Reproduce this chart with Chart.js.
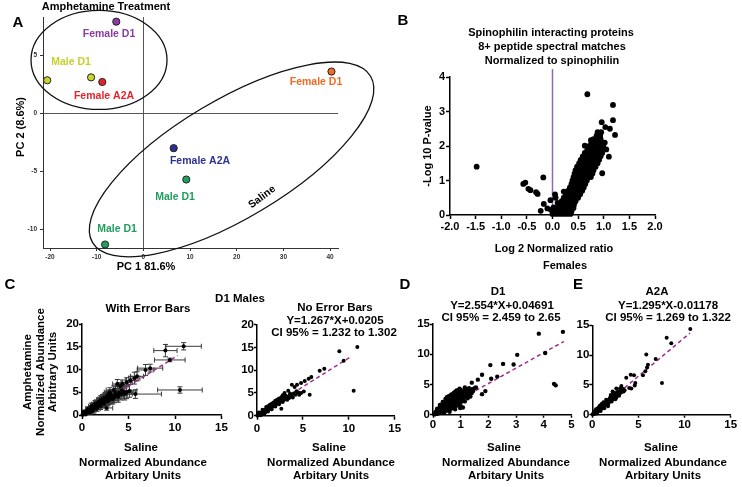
<!DOCTYPE html>
<html>
<head>
<meta charset="utf-8">
<script src="https://cdn.jsdelivr.net/npm/chart.js@4.4.1/dist/chart.umd.min.js"></script>
<style>
  html, body { margin: 0; padding: 0; background: #fff; }
  #wrap { position: relative; width: 742px; height: 487px; overflow: hidden; }
  canvas { position: absolute; left: 0; top: 0; }
</style>
</head>
<body>
<div id="wrap">
  <canvas id="pca" width="742" height="487"></canvas>
  <canvas id="volcano" width="742" height="487"></canvas>
  <canvas id="cErr" width="742" height="487"></canvas>
  <canvas id="cNoErr" width="742" height="487"></canvas>
  <canvas id="d1" width="742" height="487"></canvas>
  <canvas id="a2a" width="742" height="487"></canvas>
</div>
<script>
// ---- A: PCA ----
const aNames = ["Female D1", "Male D1", "Male D1", "Female A2A", "Female D1", "Female A2A", "Male D1", "Male D1"];
const aPC1 = [-5.8, -20.6, -11.2, -8.8, 40.3, 6.5, 9.2, -8.2];
const aPC2 = [7.9, 2.85, 3.1, 2.7, 3.6, -3.0, -5.7, -11.3];
const aTicksX = [-20, -10, 0, 10, 20, 30, 40];
const aTicksY = [-10, -5, 0, 5];

// ---- B: volcano (log2 ratio, -log10 p) ----
const bOutliers = [
  [0.68, 3.5], [1.18, 3.19], [1.18, 2.75], [1.22, 2.32], [0.96, 2.69], [1.12, 2.5], [1.03, 2.55],
  [0.75, 2.17], [0.63, 2.01], [1.10, 1.69], [0.97, 1.21], [1.05, 1.9], [1.02, 2.1],
  [-1.48, 1.40], [-0.57, 0.90], [-0.53, 0.94], [-0.47, 0.76], [-0.43, 0.72], [-0.32, 0.66],
  [-0.29, 0.61], [-0.18, 1.09], [-0.23, 0.12], [-0.17, 0.32], [-0.10, 0.19], [-0.04, 0.43],
  [0.05, 0.6], [0.06, 0.5], [0.22, 0.68], [-0.03, 0.15], [0.02, 0.22], [0.1, 0.35]
];
const bBandRows = [
  [0.03, [0, 0.07, 0.14, 0.21, 0.28, 0.35]],
  [0.1, [0.04, 0.11, 0.18, 0.25, 0.32, 0.37]],
  [0.2, [0.08, 0.15, 0.22, 0.29, 0.36, 0.41]],
  [0.3, [0.13, 0.2, 0.27, 0.34, 0.42]],
  [0.4, [0.18, 0.25, 0.32, 0.39, 0.45]],
  [0.5, [0.22, 0.29, 0.36, 0.43, 0.5]],
  [0.6, [0.26, 0.33, 0.4, 0.47, 0.54]],
  [0.7, [0.3, 0.37, 0.44, 0.51, 0.58]],
  [0.8, [0.34, 0.41, 0.48, 0.55, 0.61]],
  [0.9, [0.37, 0.44, 0.51, 0.58, 0.64]],
  [1.0, [0.39, 0.46, 0.53, 0.6, 0.67]],
  [1.1, [0.41, 0.48, 0.55, 0.62, 0.7, 0.75]],
  [1.2, [0.43, 0.5, 0.57, 0.64, 0.71, 0.78]],
  [1.3, [0.45, 0.52, 0.59, 0.66, 0.73, 0.8]],
  [1.4, [0.48, 0.55, 0.62, 0.69, 0.76, 0.84]],
  [1.5, [0.52, 0.59, 0.66, 0.73, 0.8, 0.88]],
  [1.6, [0.55, 0.62, 0.69, 0.76, 0.83, 0.91]],
  [1.7, [0.59, 0.66, 0.73, 0.8, 0.87, 0.94]],
  [1.8, [0.63, 0.7, 0.77, 0.84, 0.91, 0.97]],
  [1.9, [0.68, 0.75, 0.82, 0.89, 0.96]],
  [2.0, [0.72, 0.79, 0.86, 0.93, 0.99]],
  [2.1, [0.76, 0.83, 0.9, 0.97]],
  [2.2, [0.8, 0.87, 0.94]],
  [2.3, [0.86, 0.93]],
  [2.4, [0.88, 0.95]]
];
const bTicksX = [-2, -1.5, -1, -0.5, 0, 0.5, 1, 1.5, 2];
const bTicksY = [0, 1, 2, 3, 4];

// ---- C: D1 males, saline vs amphetamine ----
const cPoints = [
  [0.05, 0.05], [0.1, 0.2], [0.15, 0.1], [0.2, 0.3], [0.25, 0.2], [0.3, 0.45], [0.35, 0.3], [0.4, 0.55], [0.45, 0.5], [0.5, 0.7],
  [0.55, 0.6], [0.6, 0.85], [0.65, 0.75], [0.7, 1.0], [0.75, 0.85], [0.8, 1.1], [0.85, 0.95], [0.9, 1.25], [0.95, 1.1], [1.0, 1.4],
  [1.05, 1.2], [1.1, 1.5], [1.15, 1.35], [1.2, 1.65], [1.25, 1.5], [1.3, 1.75], [1.35, 1.6], [1.4, 1.9], [1.45, 1.7], [1.5, 2.0],
  [1.55, 1.85], [1.6, 2.15], [1.65, 1.95], [1.7, 2.3], [1.75, 2.1], [1.8, 2.45], [1.85, 2.25], [1.9, 2.6], [1.95, 2.35], [2.0, 2.75],
  [2.05, 2.5], [2.1, 2.9], [2.2, 2.7], [2.25, 3.1], [2.3, 2.85], [2.4, 3.3], [2.5, 3.0], [2.55, 3.5], [2.7, 3.2], [2.8, 3.7],
  [2.9, 3.4], [3.0, 3.9], [3.2, 3.6], [3.3, 4.2], [3.5, 3.9], [3.6, 4.5], [3.8, 4.3], [4.0, 4.9], [4.2, 4.6], [4.5, 5.1],
  [4.8, 5.0], [5.1, 5.3], [1.2, 2.1], [0.9, 0.7], [1.6, 2.6], [2.0, 3.3], [2.4, 3.8], [2.7, 4.1], [2.65, 1.55], [5.74, 4.6],
  [10.53, 5.5], [10.93, 15.1], [8.97, 14.15], [9.44, 12.1], [7.33, 10.3], [6.83, 9.9], [5.92, 8.5], [5.63, 8.1], [5.2, 7.6], [4.8, 7.2],
  [4.36, 6.8], [3.8, 6.8], [4.1, 6.3], [3.4, 5.5], [3.0, 5.0], [2.8, 4.5],
  [0.2, 0.7], [0.4, 0.1], [0.6, 1.3], [0.8, 0.5], [1.0, 1.9], [1.2, 0.9], [1.4, 2.4], [1.6, 1.4], [1.8, 2.9], [2.0, 2.0],
  [2.2, 3.5], [2.4, 2.5], [2.6, 3.9], [2.8, 3.0], [3.1, 4.4], [3.3, 3.5], [3.6, 4.9], [3.9, 4.0], [4.3, 5.4], [4.6, 4.6]
];
// SEM (x, y) per point, same order as cPoints
const cErrors = [
  [0.05, 0.1], [0.08, 0.2], [0.06, 0.15], [0.1, 0.25], [0.08, 0.2], [0.12, 0.3], [0.1, 0.25], [0.15, 0.35], [0.12, 0.3], [0.15, 0.4],
  [0.12, 0.35], [0.18, 0.45], [0.15, 0.4], [0.2, 0.5], [0.15, 0.4], [0.2, 0.5], [0.18, 0.45], [0.25, 0.55], [0.2, 0.5], [0.25, 0.6],
  [0.2, 0.5], [0.3, 0.6], [0.25, 0.55], [0.3, 0.65], [0.25, 0.6], [0.3, 0.7], [0.28, 0.6], [0.35, 0.7], [0.3, 0.65], [0.35, 0.75],
  [0.3, 0.7], [0.4, 0.8], [0.35, 0.7], [0.4, 0.8], [0.35, 0.75], [0.45, 0.85], [0.4, 0.8], [0.45, 0.9], [0.4, 0.8], [0.5, 0.9],
  [0.45, 0.85], [0.5, 1.0], [0.45, 0.9], [0.55, 1.0], [0.5, 0.9], [0.55, 1.1], [0.5, 1.0], [0.6, 1.1], [0.55, 1.0], [0.6, 1.2],
  [0.55, 1.1], [0.65, 1.2], [0.6, 1.1], [0.7, 1.3], [0.6, 1.2], [0.7, 1.3], [0.65, 1.2], [0.75, 1.4], [0.7, 1.3], [0.8, 1.5],
  [0.7, 1.4], [0.8, 1.4], [0.3, 0.6], [0.2, 0.4], [0.35, 0.7], [0.45, 0.9], [0.5, 1.0], [0.6, 1.1], [0.65, 0.5], [2.8, 0.95],
  [2.4, 0.7], [1.9, 0.8], [1.25, 1.35], [1.65, 0.4], [1.35, 0.85], [0.9, 1.2], [0.7, 1.0], [0.6, 1.3], [0.5, 0.9], [0.6, 1.0],
  [0.6, 0.9], [0.5, 1.0], [0.5, 0.8], [0.8, 0.9], [0.6, 1.0], [0.5, 0.8],
  [0.1, 0.3], [0.1, 0.2], [0.2, 0.5], [0.2, 0.4], [0.3, 0.7], [0.3, 0.5], [0.35, 0.8], [0.35, 0.6], [0.45, 0.9], [0.4, 0.8],
  [0.5, 1.0], [0.5, 0.9], [0.55, 1.1], [0.55, 1.0], [0.6, 1.2], [0.6, 1.1], [0.7, 1.3], [0.7, 1.2], [0.8, 1.4], [0.8, 1.3]
];
const cFit = { slope: 1.267, intercept: 0.0205, xRange: [0, 10.3] };
const cTicksX = [0, 5, 10, 15];
const cTicksY = [0, 5, 10, 15, 20];

// ---- D: D1 ----
const dBandCols = [
  [0.05, [0.05, 0.2]], [0.1, [0.1, 0.3, 0.5]], [0.15, [0.15, 0.4, 0.7, 1.0]], [0.2, [0.25, 0.55, 0.9]],
  [0.25, [0.3, 0.65, 1.0, 1.3, 1.6]], [0.3, [0.4, 0.8, 1.2, 1.5]], [0.35, [0.5, 0.9, 1.4, 1.8, 2.1]], [0.4, [0.3, 0.55, 1.0, 1.5, 2.0]],
  [0.45, [0.6, 1.1, 1.6, 2.2, 2.6]], [0.5, [0.7, 1.2, 1.8, 2.4, 2.9]], [0.55, [0.8, 1.3, 1.9, 2.5, 3.0]], [0.6, [0.5, 0.9, 1.5, 2.1, 2.7, 3.1]],
  [0.65, [1.0, 1.6, 2.2, 2.8, 3.3]], [0.7, [1.1, 1.7, 2.4, 3.0, 3.4]], [0.75, [1.2, 1.9, 2.6, 3.2, 3.6]], [0.8, [0.9, 1.3, 2.0, 2.7, 3.4, 3.8]],
  [0.85, [1.5, 2.2, 2.9, 3.5, 4.0]], [0.9, [1.6, 2.4, 3.1, 3.7, 4.0]], [0.95, [1.8, 2.6, 3.3, 3.9]], [1.0, [1.4, 2.0, 2.8, 3.5, 4.1]],
  [1.05, [2.3, 3.0, 3.7]], [1.1, [2.6, 3.2, 3.9]], [1.15, [2.2, 4.3]], [1.2, [3.0, 3.6, 4.0]], [1.25, [2.7]],
  [1.3, [3.3, 3.8]], [1.35, [3.0]], [1.4, [3.6, 4.1]], [1.45, [3.9]], [1.5, [4.4]]
];
const dOutliers = [
  [4.69, 13.7], [3.82, 13.4], [4.05, 10.2], [3.04, 9.9], [2.91, 8.3], [2.53, 8.4], [2.07, 8.2], [2.32, 6.3],
  [2.1, 5.95], [1.77, 6.6], [1.62, 5.8], [1.4, 5.3], [1.89, 3.9], [1.77, 3.4], [4.37, 5.1], [4.43, 4.85],
  [1.08, 1.2], [0.98, 1.1], [0.96, 4.3], [1.26, 4.1], [1.42, 4.2], [1.15, 4.5], [1.55, 4.5], [1.3, 4.4]
];
const dFit = { slope: 2.554, intercept: 0.04691, xRange: [0, 4.72] };
const dTicksX = [0, 1, 2, 3, 4, 5];
const dTicksY = [0, 5, 10, 15];

// ---- E: A2A ----
const ePoints = [
  [0.05, 0.05], [0.1, 0.2], [0.2, 0.1], [0.25, 0.35], [0.3, 0.2], [0.4, 0.5], [0.45, 0.35], [0.5, 0.7], [0.6, 0.5], [0.65, 0.9],
  [0.7, 0.7], [0.8, 1.1], [0.85, 0.85], [0.9, 1.25], [1.0, 1.0], [1.05, 1.45], [1.1, 1.2], [1.2, 1.65], [1.25, 1.35], [1.3, 1.8],
  [1.4, 1.55], [1.45, 2.0], [1.5, 1.7], [1.6, 2.2], [1.65, 1.85], [1.7, 2.4], [1.8, 2.05], [1.85, 2.6], [1.9, 2.25], [2.0, 2.8],
  [2.05, 2.4], [2.1, 3.0], [2.2, 2.6], [2.25, 3.2], [2.3, 2.8], [2.4, 3.4], [2.5, 3.0], [2.55, 3.6], [2.65, 3.2], [2.7, 3.8],
  [2.8, 3.4], [2.9, 3.9], [3.0, 3.6], [3.1, 4.1], [3.2, 3.8], [3.35, 4.3], [3.5, 4.1], [1.0, 1.8], [1.5, 2.5], [2.0, 3.3],
  [2.3, 3.7], [1.7, 1.4], [2.6, 2.9], [0.6, 1.1], [3.0, 4.4],
  [0.3, 0.6], [0.5, 0.2], [0.7, 1.2], [0.9, 0.6], [1.1, 1.7], [1.3, 1.1], [1.5, 2.2], [1.7, 1.7], [1.9, 2.8], [2.1, 2.2],
  [2.3, 3.3], [2.5, 2.6], [2.7, 3.5], [2.9, 3.2], [3.2, 4.3], [3.4, 3.9], [2.2, 3.9], [1.2, 2.1], [0.4, 0.9], [0.8, 1.5],
  [10.62, 14.4], [8.06, 12.9], [8.56, 12.0], [5.85, 10.1], [6.87, 9.35], [6.03, 8.4], [5.93, 7.9], [5.75, 7.3],
  [5.49, 6.6], [7.55, 5.3], [4.52, 6.6], [4.16, 6.7], [3.68, 6.2], [4.66, 5.3], [4.6, 4.9], [4.0, 4.5],
  [4.23, 4.4], [3.15, 4.8], [2.6, 4.4]
];
const eFit = { slope: 1.295, intercept: -0.01178, xRange: [0, 10.6] };
const eTicksX = [0, 5, 10, 15];
const eTicksY = [0, 5, 10, 15];

// ---- styles ----
const FF = "'Liberation Sans', Arial, Helvetica, sans-serif";
const aColors = ["#8b3aa6", "#c9d52e", "#c9d52e", "#e5232c", "#f26a24", "#2e3192", "#1f9e5c", "#1f9e5c"];
const PURPLE_FIT = "#a0308e";
const fnt = (size, weight = "bold") => ({ family: FF, size, weight });
const W = 742, H = 487, AX = 30;

Chart.defaults.font.family = FF;
Chart.defaults.animation = false;

const xy = arr => arr.map(p => ({ x: p[0], y: p[1] }));

function axis(min, max, ticks, st, fmt) {
  return {
    type: "linear", min, max,
    afterBuildTicks: s => { s.ticks = ticks.map(v => ({ value: v })); },
    afterFit: s => { if (s.isHorizontal()) s.height = AX; else s.width = AX; },
    border: { display: true, color: st.color, width: st.width },
    grid: {
      display: true,
      drawOnChartArea: !!st.zero,
      color: c => (st.zero && c.tick && c.tick.value === 0) ? st.zero : "rgba(0,0,0,0)",
      lineWidth: 1,
      tickColor: st.color, tickLength: st.tick, tickWidth: st.width
    },
    ticks: {
      font: st.font, color: st.text || "#000", padding: st.pad,
      maxRotation: 0, autoSkip: false, callback: fmt || (v => String(v))
    }
  };
}

// plot rectangle in page pixels -> layout padding for a full-page canvas
const area = (x0, y0, x1, y1) => ({ left: x0 - AX, top: y0, right: W - x1, bottom: H - y1 - AX });

function fitLine(fit) {
  return fit.xRange.map(x => ({ x, y: fit.slope * x + fit.intercept }));
}

const textPlugin = {
  id: "texts",
  afterDraw(chart, args, opts) {
    const ctx = chart.ctx;
    (opts.items || []).forEach(t => {
      ctx.save();
      ctx.font = `bold ${t.s || 11.5}px ${FF}`;
      ctx.fillStyle = t.c || "#000";
      ctx.textAlign = "center";
      ctx.textBaseline = "middle";
      ctx.translate(t.x, t.y);
      if (t.r) ctx.rotate(t.r * Math.PI / 180);
      ctx.fillText(t.t, 0, 0);
      ctx.restore();
    });
  }
};

const ellipsePlugin = {
  id: "ellipses",
  beforeDatasetsDraw(chart, args, opts) {
    const ctx = chart.ctx, sx = chart.scales.x, sy = chart.scales.y;
    (opts.items || []).forEach(e => {
      ctx.save();
      ctx.beginPath();
      ctx.ellipse(sx.getPixelForValue(e.x), sy.getPixelForValue(e.y), e.rx, e.ry, e.rot * Math.PI / 180, 0, Math.PI * 2);
      ctx.lineWidth = 1.3;
      ctx.strokeStyle = "#111";
      ctx.stroke();
      ctx.restore();
    });
  }
};

const errPlugin = {
  id: "errbars",
  beforeDatasetsDraw(chart, args, opts) {
    if (!opts.pts) return;
    const ctx = chart.ctx, sx = chart.scales.x, sy = chart.scales.y, ca = chart.chartArea;
    ctx.save();
    ctx.beginPath();
    ctx.rect(ca.left, ca.top - 10, ca.right - ca.left + 10, ca.bottom - ca.top + 10);
    ctx.clip();
    ctx.strokeStyle = "#3a3a3a";
    ctx.lineWidth = 1;
    const cap = 2.5;
    opts.pts.forEach((p, i) => {
      const [xe, ye] = opts.err[i];
      const px = sx.getPixelForValue(p[0]), py = sy.getPixelForValue(p[1]);
      const xl = sx.getPixelForValue(p[0] - xe), xr = sx.getPixelForValue(p[0] + xe);
      const yt = sy.getPixelForValue(p[1] + ye), yb = sy.getPixelForValue(p[1] - ye);
      ctx.beginPath();
      ctx.moveTo(xl, py); ctx.lineTo(xr, py);
      ctx.moveTo(xl, py - cap); ctx.lineTo(xl, py + cap);
      ctx.moveTo(xr, py - cap); ctx.lineTo(xr, py + cap);
      ctx.moveTo(px, yt); ctx.lineTo(px, yb);
      ctx.moveTo(px - cap, yt); ctx.lineTo(px + cap, yt);
      ctx.moveTo(px - cap, yb); ctx.lineTo(px + cap, yb);
      ctx.stroke();
    });
    ctx.restore();
  }
};

const plugins = [textPlugin, ellipsePlugin, errPlugin];

function baseOptions(pad, scales, extra) {
  return {
    responsive: false,
    animation: false,
    events: [],
    layout: { padding: pad },
    scales,
    plugins: Object.assign({ legend: { display: false }, tooltip: { enabled: false } }, extra)
  };
}

// ---- A ----
const stA = { color: "#333", width: 1, tick: 3, pad: 2, font: fnt(6.5), text: "#333", zero: "#555" };
const stAy = Object.assign({}, stA, { pad: 3 });
new Chart(document.getElementById("pca"), {
  type: "scatter",
  data: {
    datasets: [{
      data: aPC1.map((x, i) => ({ x, y: aPC2[i] })),
      pointBackgroundColor: aColors, pointBorderColor: "#222", pointBorderWidth: 1,
      pointRadius: 3.6, clip: false
    }]
  },
  options: baseOptions(area(43, 17, 338, 248), {
    x: axis(-21.5, 41.7, aTicksX, stA),
    y: axis(-11.6, 8.3, aTicksY, stAy)
  }, {
    ellipses: { items: [
      { x: -9.5, y: 4.6, rx: 68, ry: 49.5, rot: 0 },
      { x: 18.9, y: -3.97, rx: 162, ry: 59, rot: -30.9 }
    ] },
    texts: { items: [
      { t: "A", x: 18, y: 23, s: 15 },
      { t: "Amphetamine Treatment", x: 106, y: 7, s: 11 },
      { t: "PC 1 81.6%", x: 146, y: 267, s: 11 },
      { t: "PC 2 (8.6%)", x: 21, y: 127, s: 11, r: -90 },
      { t: aNames[0], x: 109, y: 34, s: 10.5, c: "#8b3aa6" },
      { t: aNames[1], x: 71, y: 62, s: 10.5, c: "#c4d12a" },
      { t: aNames[3], x: 104, y: 96, s: 10.5, c: "#e5232c" },
      { t: aNames[4], x: 316, y: 82, s: 10.5, c: "#f26a24" },
      { t: aNames[5], x: 200, y: 161, s: 10.5, c: "#2e3192" },
      { t: aNames[6], x: 175, y: 197, s: 10.5, c: "#1f9e5c" },
      { t: aNames[7], x: 117, y: 229, s: 10.5, c: "#1f9e5c" },
      { t: "Saline", x: 262, y: 197, s: 10.5, r: -37 }
    ] }
  }),
  plugins
});

// ---- B ----
const bPoints = bOutliers.concat(...bBandRows.map(r => r[1].map(x => [x, r[0]])));
const stBx = { color: "#000", width: 1.5, tick: 4, pad: 1.5, font: fnt(11) };
const stBy = { color: "#000", width: 1.5, tick: 4, pad: 1, font: fnt(11) };
new Chart(document.getElementById("volcano"), {
  type: "scatter",
  data: {
    datasets: [
      { data: xy(bPoints), pointBackgroundColor: "#000", pointBorderWidth: 0, pointRadius: 2.9, clip: false },
      { data: [{ x: 0, y: 0 }, { x: 0, y: 4.23 }], showLine: true, borderColor: "#8c6bb1", borderWidth: 1.5, pointRadius: 0, clip: false }
    ]
  },
  options: baseOptions(area(450, 77, 655, 215), {
    x: axis(-2, 2, bTicksX, stBx, v => v.toFixed(1)),
    y: axis(0, 4, bTicksY, stBy)
  }, {
    texts: { items: [
      { t: "B", x: 403, y: 21, s: 15 },
      { t: "Spinophilin interacting proteins", x: 551, y: 33, s: 11 },
      { t: "8+ peptide spectral matches", x: 552, y: 47, s: 11 },
      { t: "Normalized to spinophilin", x: 552, y: 61, s: 11 },
      { t: "-Log 10 P-value", x: 428, y: 146, s: 11, r: -90 },
      { t: "Log 2 Normalized ratio", x: 554, y: 249, s: 11 },
      { t: "Females", x: 565, y: 266, s: 11 }
    ] }
  }),
  plugins
});

// ---- C, D, E shared styles ----
const stCx = { color: "#000", width: 1.5, tick: 4, pad: 2, font: fnt(11.5) };
const stCy = { color: "#000", width: 1.5, tick: 3, pad: 0, font: fnt(11.5) };
const stDx = { color: "#000", width: 1.5, tick: 3, pad: 0, font: fnt(11.5) };

function xTitles(cx) {
  return [
    { t: "Saline", x: cx - 2, y: 448 },
    { t: "Normalized Abundance", x: cx, y: 463 },
    { t: "Arbitary Units", x: cx, y: 476 }
  ];
}

function corrChart(id, pts, fit, rect, xr, yr, xt, yt, stx, r, extra) {
  return new Chart(document.getElementById(id), {
    type: "scatter",
    data: {
      datasets: [
        { data: xy(pts), pointBackgroundColor: "#000", pointBorderWidth: 0, pointRadius: r, clip: false },
        { data: fitLine(fit), showLine: true, borderColor: PURPLE_FIT, borderWidth: 1.5, borderDash: [4, 3], pointRadius: 0, clip: false }
      ]
    },
    options: baseOptions(area(...rect), {
      x: axis(xr[0], xr[1], xt, stx),
      y: axis(yr[0], yr[1], yt, stCy)
    }, extra),
    plugins
  });
}

corrChart("cErr", cPoints, cFit, [82, 324, 221.5, 415], [0, 15], [0, 20], cTicksX, cTicksY, stCx, 2, {
  errbars: { pts: cPoints, err: cErrors },
  texts: { items: [
    { t: "C", x: 10, y: 285, s: 15 },
    { t: "D1 Males", x: 240, y: 299 },
    { t: "With Error Bars", x: 148, y: 309 },
    { t: "Amphetamine", x: 28, y: 372, r: -90 },
    { t: "Normalized Abundance", x: 41, y: 372, r: -90 },
    { t: "Arbitrary Units", x: 53, y: 372, r: -90 }
  ].concat(xTitles(143)) }
});

corrChart("cNoErr", cPoints, cFit, [257, 324.7, 394.7, 415.7], [0, 15], [0, 20], cTicksX, cTicksY, stCx, 2, {
  texts: { items: [
    { t: "No Error Bars", x: 335, y: 308 },
    { t: "Y=1.267*X+0.0205", x: 335, y: 321 },
    { t: "CI 95% = 1.232 to 1.302", x: 334, y: 333 }
  ].concat(xTitles(331)) }
});

const dPoints = dOutliers.concat(...dBandCols.map(c => c[1].map(y => [c[0], y])));
corrChart("d1", dPoints, dFit, [433, 324, 571.5, 414.7], [0, 5], [0, 15], dTicksX, dTicksY, stDx, 2.2, {
  texts: { items: [
    { t: "D", x: 405, y: 285, s: 15 },
    { t: "D1", x: 498, y: 292 },
    { t: "Y=2.554*X+0.04691", x: 502, y: 306 },
    { t: "CI 95% = 2.459 to 2.65", x: 501, y: 318 }
  ].concat(xTitles(506)) }
});

corrChart("a2a", ePoints, eFit, [592.3, 325.3, 730.7, 414.7], [0, 15], [0, 15], eTicksX, eTicksY, stDx, 2, {
  texts: { items: [
    { t: "E", x: 578, y: 285, s: 15 },
    { t: "A2A", x: 657, y: 292 },
    { t: "Y=1.295*X-0.01178", x: 668, y: 306 },
    { t: "CI 95% = 1.269 to 1.322", x: 668, y: 318 }
  ].concat(xTitles(663)) }
});
</script>
</body>
</html>
